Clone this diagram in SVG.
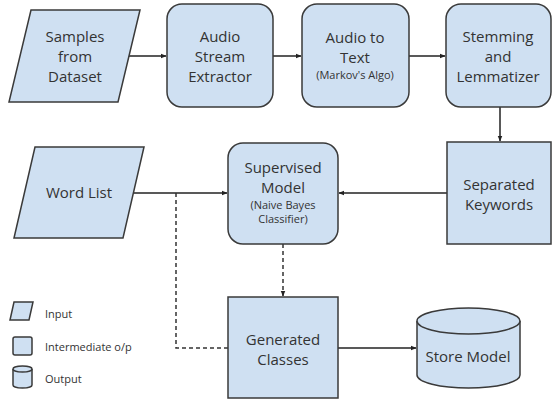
<svg xmlns="http://www.w3.org/2000/svg" width="553" height="402" viewBox="0 0 553 402">
<defs>
<marker id="ah" viewBox="0 0 10 10" refX="9" refY="5" markerWidth="6" markerHeight="6" orient="auto" markerUnits="userSpaceOnUse"><path d="M0,1 L10,5 L0,9 z" fill="#222"/></marker>
<style>
.s{fill:#cfe0f2;stroke:#3a3a3a;stroke-width:1.5}
.t{font-family:"Open Sans","Liberation Sans",sans-serif;font-size:15px;fill:#333;text-anchor:middle}
.sm{font-size:11px}
.lg{font-family:"Open Sans","Liberation Sans",sans-serif;font-size:11px;fill:#333}
.c{fill:none;stroke:#222;stroke-width:1.5}
.d{fill:none;stroke:#333;stroke-width:1.5;stroke-dasharray:4 3}
</style>
</defs>
<rect width="553" height="402" fill="#fff"/>
<g id="connectors">
<line class="c" x1="118" y1="56" x2="166" y2="56" marker-end="url(#ah)"/>
<line class="c" x1="273" y1="56" x2="301" y2="56" marker-end="url(#ah)"/>
<line class="c" x1="409" y1="56" x2="445" y2="56" marker-end="url(#ah)"/>
<line class="c" x1="500" y1="107" x2="500" y2="141" marker-end="url(#ah)"/>
<line class="c" x1="447" y1="193" x2="339" y2="193" marker-end="url(#ah)"/>
<line class="c" x1="133" y1="193" x2="227" y2="193" marker-end="url(#ah)"/>
<path class="d" d="M176,193 V348 H228"/>
<line class="d" x1="283" y1="244" x2="283" y2="296" marker-end="url(#ah)"/>
<line class="c" x1="338" y1="348" x2="416" y2="348" marker-end="url(#ah)"/>
</g>
<g id="samples">
<polygon class="s" points="31,10 140,10 118,102 9,102"/>
<text class="t" x="75" y="42">Samples</text>
<text class="t" x="75" y="62">from</text>
<text class="t" x="75" y="82">Dataset</text>
</g>
<g id="extractor">
<rect class="s" x="167" y="4" width="106" height="103" rx="15"/>
<text class="t" x="220" y="42">Audio</text>
<text class="t" x="220" y="62">Stream</text>
<text class="t" x="220" y="82">Extractor</text>
</g>
<g id="audiototext">
<rect class="s" x="302" y="4" width="107" height="103" rx="15"/>
<text class="t" x="355" y="43">Audio to</text>
<text class="t" x="355" y="63">Text</text>
<text class="t sm" x="355" y="79">(Markov's Algo)</text>
</g>
<g id="stemming">
<rect class="s" x="446" y="4" width="105" height="103" rx="15"/>
<text class="t" x="498" y="42">Stemming</text>
<text class="t" x="498" y="62">and</text>
<text class="t" x="498" y="82">Lemmatizer</text>
</g>
<g id="keywords">
<rect class="s" x="447" y="142" width="104" height="102"/>
<text class="t" x="499" y="190">Separated</text>
<text class="t" x="499" y="210">Keywords</text>
</g>
<g id="supervised">
<rect class="s" x="228" y="143" width="110" height="101" rx="15"/>
<text class="t" x="283" y="173">Supervised</text>
<text class="t" x="283" y="193">Model</text>
<text class="t sm" x="283" y="209">(Naive Bayes</text>
<text class="t sm" x="283" y="223">Classifier)</text>
</g>
<g id="wordlist">
<polygon class="s" points="35,147 144,147 123,238 14,238"/>
<text class="t" x="79" y="198">Word List</text>
</g>
<g id="generated">
<rect class="s" x="228" y="297" width="110" height="101"/>
<text class="t" x="283" y="345">Generated</text>
<text class="t" x="283" y="365">Classes</text>
</g>
<g id="store">
<path class="s" d="M417,321 A51.5,13 0 0 1 520,321 V375 A51.5,13 0 0 1 417,375 Z"/>
<path class="s" d="M417,321 A51.5,13 0 0 0 520,321" fill="none"/>
<text class="t" x="468" y="362">Store Model</text>
</g>
<g id="legend">
<polygon class="s" points="14,302 33,302 29,320 10,320"/>
<text class="lg" x="45" y="318">Input</text>
<rect class="s" x="13" y="337" width="19" height="18" rx="2"/>
<text class="lg" x="45" y="351">Intermediate o/p</text>
<path class="s" d="M13,369 A9.5,3 0 0 1 32,369 V385 A9.5,3 0 0 1 13,385 Z"/>
<path class="s" d="M13,369 A9.5,3 0 0 0 32,369" fill="none"/>
<text class="lg" x="45" y="383">Output</text>
</g>
</svg>
